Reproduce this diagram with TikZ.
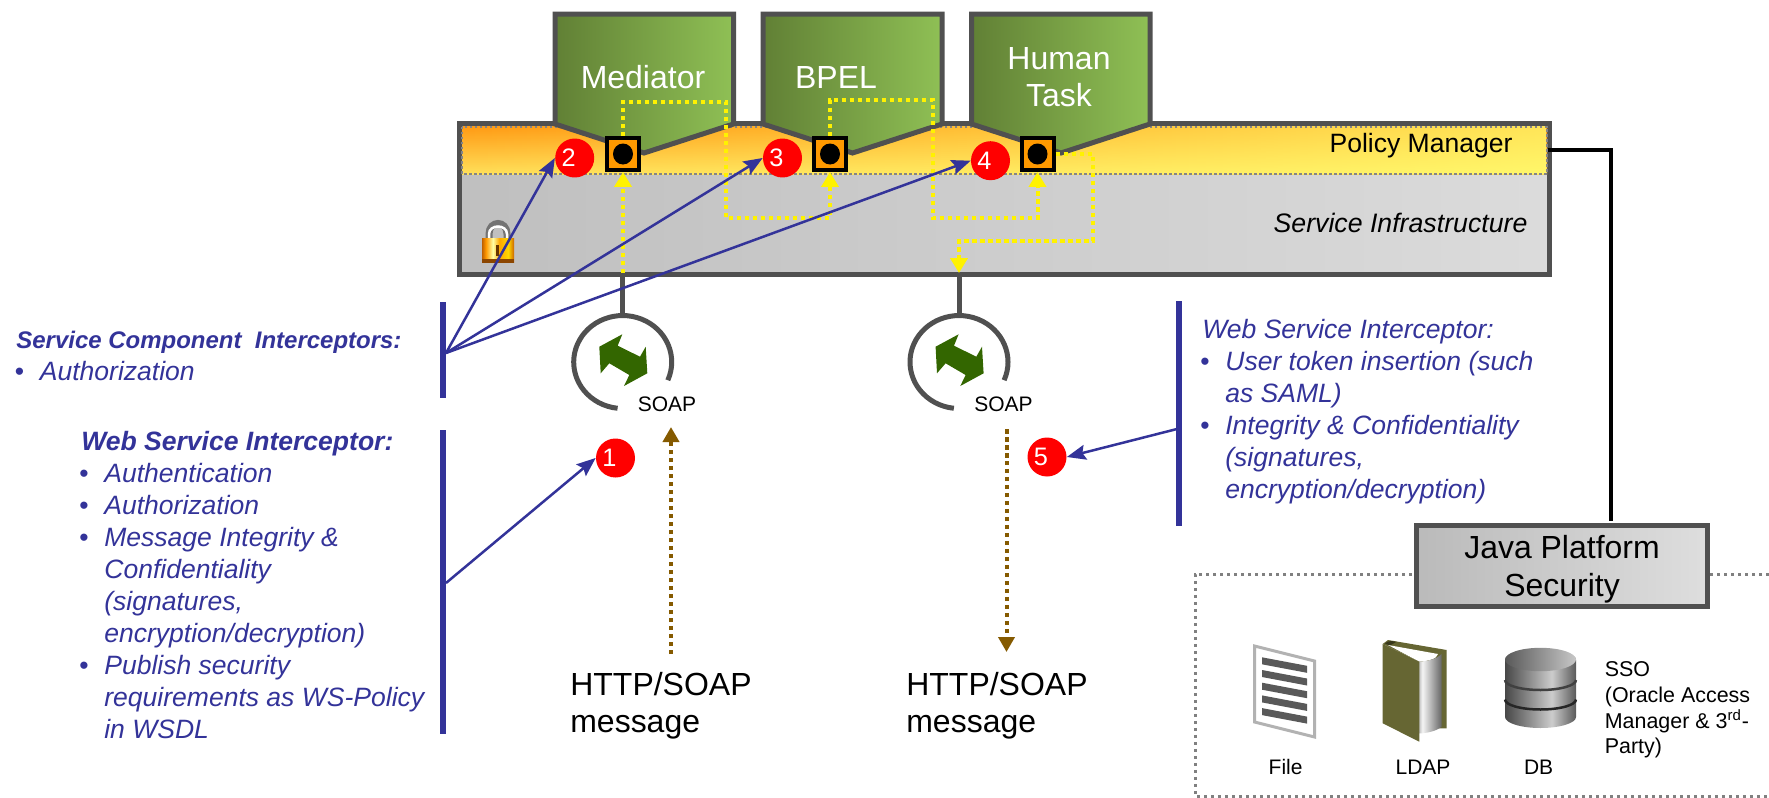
\documentclass[tikz,border=0pt]{standalone}
\usepackage{fontspec}
\setmainfont{Liberation Sans}
\usepackage{xcolor}
\usepackage{tikz}
\usetikzlibrary{shapes}
\usetikzlibrary{arrows}
\usetikzlibrary{arrows.meta}
\usetikzlibrary{fadings}
\definecolor{frame}{HTML}{505050}
\definecolor{ink}{HTML}{333399}
\definecolor{mud}{HTML}{855A00}
\definecolor{leafdark}{HTML}{618035}
\definecolor{leaflight}{HTML}{8FC055}
\definecolor{olive}{HTML}{666633}
\definecolor{bandtop}{HTML}{FF9A14}
\definecolor{bandlow}{HTML}{FFE05A}
\definecolor{bandwash}{HTML}{FFFF70}
\definecolor{pine}{HTML}{336600}
\definecolor{probeorange}{HTML}{FF9900}
\pgfdeclarehorizontalshading{dbbody}{100bp}{color(0bp)=(black!72); color(25bp)=(black!72); color(58bp)=(black!20); color(75bp)=(black!65); color(100bp)=(black!65)}
\pgfdeclarehorizontalshading{dbcap}{100bp}{color(0bp)=(black!65); color(25bp)=(black!65); color(75bp)=(black!22); color(100bp)=(black!22)}
\pgfdeclarehorizontalshading{pages}{100bp}{color(0bp)=(black!22); color(25bp)=(black!22); color(32bp)=(black!4); color(75bp)=(black!60); color(100bp)=(black!60)}
\pgfdeclarehorizontalshading{lockbody}{100bp}{color(0bp)=(orange!75!black); color(25bp)=(orange!75!black); color(31bp)=(probeorange); color(42bp)=(yellow!35!white); color(52bp)=(orange!70!yellow); color(66bp)=(yellow!70!orange); color(75bp)=(orange!80!black); color(100bp)=(orange!80!black)}
\newcommand{\blt}{\makebox[0.5cm][l]{\upshape\textbullet}}
\newcommand{\cont}{\hspace*{0.5cm}}
\newcommand{\digit}[1]{\hspace*{-0.24cm}#1}
\tikzset{
	big text/.style={font=\fontsize{18.2}{21.2}\selectfont},
	list text/.style={font=\fontsize{15.1}{18.2}\selectfont\itshape,text=ink,align=left,inner sep=0pt,anchor=north west},
	small text/.style={font=\fontsize{11.95}{14.6}\selectfont},
	infra box/.style={draw=frame,line width=0.1cm,left color=black!25,right color=black!14,minimum width=21.8cm,minimum height=3.02cm},
	comp/.style={draw=frame,line width=0.1cm,left color=leafdark,right color=leaflight},
	probe/.style={rectangle,draw=black,line width=0.08cm,fill=probeorange,minimum size=0.64cm,inner sep=0pt},
	red dot/.style={circle,fill=red,text=white,font=\fontsize{14.4}{16}\selectfont,inner sep=0pt,minimum size=0.78cm},
	blue bar/.style={rectangle,fill=ink,inner sep=0pt,minimum width=0.12cm},
	blue arrow/.style={draw=ink,line width=0.05cm,-{Stealth[length=0.38cm,width=0.3cm,inset=0.06cm]}},
	flow/.style={draw=yellow,line width=0.08cm,dash pattern=on 0.09cm off 0.07cm},
	flow tip/.style={-{Triangle[length=0.3cm,width=0.34cm]}},
	msg/.style={draw=mud,line width=0.08cm,dash pattern=on 0.09cm off 0.07cm,-{Triangle[length=0.3cm,width=0.32cm]}},
	soap ring/.style={ellipse,inner sep=0pt,outer sep=0pt,minimum width=1.96cm,minimum height=1.86cm},
	stub/.style={draw=frame,line width=0.1cm},
	band edge/.style={frame!70,line width=0.04cm,dash pattern=on 0.05cm off 0.05cm}
}

\begin{document}
\begin{tikzpicture}[x=0.02cm,y=-0.02cm]
	    \useasboundingbox (0,0) rectangle (1769,798);

	    \node[infra box] (infra) at (1004.5,199) {};
	    \fill[top color=bandtop,bottom color=bandlow] (462,126) rectangle (1547,174);
	    \fill[bandwash,path fading=west,fill opacity=0.75] (462,126) rectangle (1547,174);
	    \draw[band edge] (462,126.5) rectangle (1547,174);

	    \draw[comp] (555,14) -- (733.5,14) -- (733.5,124) -- (644,153) -- (555,124) -- cycle;
	    \draw[comp] (763,14) -- (942,14) -- (942,124) -- (852.5,153) -- (763,124) -- cycle;
	    \draw[comp] (971.5,14) -- (1150,14) -- (1150,124) -- (1061,153) -- (971.5,124) -- cycle;

	    \node[big text,text=white] (mediator) at (643,77) {Mediator};
	    \node[big text,text=white] (bpel) at (836,77) {BPEL};
	    \node[big text,text=white,align=center] (human) at (1059,77) {Human\\Task};
	    \node[font=\fontsize{15.1}{18}\selectfont] (policy) at (1421,146) {Policy Manager};
	    \node[font=\fontsize{15.2}{18}\selectfont\itshape] (infralabel) at (1400.5,223) {Service Infrastructure};

	    \node[probe] (medbox) at (623,154) {};
	    \node[probe] (bpelbox) at (830,154) {};
	    \node[probe] (humanbox) at (1037.5,154) {};
	    \foreach \n in {medbox,bpelbox,humanbox}
	      \fill[black] (\n) ellipse (0.2cm and 0.21cm);

	    \node[red dot] (red2) at (574.7,158) {\digit{2}};
	    \node[red dot] (red3) at (782.5,158) {\digit{3}};
	    \node[red dot] (red4) at (990.5,160.7) {\digit{4}};
	    \node[red dot] (red1) at (615.5,458) {\digit{1}};
	    \node[red dot] (red5) at (1047,457) {\digit{5}};

	    % lock
	    \draw[black!55,line width=0.14cm] (489,240) -- (489,234) .. controls (489,220) and (507,220) .. (507,234) -- (507,240);
	    \draw[white,line width=0.05cm] (489,240) -- (489,234) .. controls (489,224) and (507,224) .. (507,234) -- (507,240);
	    \shade[shading=lockbody] (482,238) rectangle (514,262.7);
	    \fill[orange!55!black] (482,258.5) rectangle (514,262.7);
	    \fill[orange!40!black] (495.5,245) rectangle (498.5,256);

	    \foreach \n/\xx in {soapa/622.7,soapb/959}{
	      \node[soap ring] (\n) at (\xx,362) {};
	      \draw[frame,line width=0.1cm,shift={(\xx,362)}] (45.1,18.2) arc[start angle=-23,end angle=264,x radius=0.98cm,y radius=0.93cm];
	      \fill[pine,shift={(\xx,362)}] (-23.4,-15.3) -- (-0.4,-27.7) -- (-5,-16.3) -- (17.3,-5.3) -- (23,-15.3) -- (24.6,11.3) -- (1.3,24) -- (6.6,13) -- (-13.4,1.3) -- (-22,11.3) -- cycle;
	      \path[stub] (infra.south -| \n.north) -- (\n.north);
	    }
	    \node[small text] (soapalabel) at (667,404) {SOAP};
	    \node[small text] (soapblabel) at (1003.5,404) {SOAP};

	    \coordinate (flowin) at (623,273);
	    \coordinate (flowout) at (959,273);
	    \path[flow,flow tip] (flowin) -- (medbox.south);
	    \path[flow,flow tip] (medbox.north) |- (726,102) -- (726,218) -| (bpelbox.south);
	    \path[flow,flow tip] (bpelbox.north) |- (933,100) -- (933,218) -| (humanbox.south);
	    \path[flow,flow tip] (humanbox.east) -| (1092.7,240.7) -| (flowout);

	    \coordinate (msgina) at (671,654);
	    \coordinate (msginb) at (671,427);
	    \coordinate (msgouta) at (1006.5,429);
	    \coordinate (msgoutb) at (1006.5,652);
	    \path[msg] (msgina) -- (msginb);
	    \path[msg] (msgouta) -- (msgoutb);

	    \node[big text,align=left,anchor=north west,inner sep=0pt] (httpa) at (570,671.5) {HTTP/SOAP\\message};
	    \node[big text,align=left,anchor=north west,inner sep=0pt] (httpb) at (906,671.5) {HTTP/SOAP\\message};

	    \node[blue bar,minimum height=1.92cm] (svcbar) at (443,350) {};
	    \node[blue bar,minimum height=6.08cm] (wsbar) at (443,582) {};
	    \node[blue bar,minimum height=4.5cm] (outbar) at (1179,413.5) {};
	    \coordinate (svcfoot) at (446,353);
	    \coordinate (wsfoot) at (446,583);
	    \coordinate (outfoot) at (1177,429);

	    \path[every edge/.append style={blue arrow}]
	      (svcfoot) edge (red2.west)
	                edge (red3.west)
	                edge (red4.west)
	      (wsfoot) edge (red1.west)
	      (outfoot) edge (red5.east);

	    \node[list text] (svclist) at (14.5,330.5) {\hspace*{0.03cm}{\fontsize{13.65}{18}\selectfont\bfseries Service Component\ \ Interceptors:}\\
	      \blt Authorization};
	    \node[list text] (wslist) at (79,431) {\hspace*{0.04cm}{\bfseries Web Service Interceptor:}\\
	      \blt Authentication\\
	      \blt Authorization\\
	      \blt Message Integrity \&\\
	      \cont Confidentiality\\
	      \cont (signatures,\\
	      \cont encryption/decryption)\\
	      \blt Publish security\\
	      \cont requirements as WS-Policy\\
	      \cont in WSDL};
	    \node[list text] (outlist) at (1200,319) {\hspace*{0.04cm}Web Service Interceptor:\\
	      \blt User token insertion (such\\
	      \cont as SAML)\\
	      \blt Integrity \& Confidentiality\\
	      \cont (signatures,\\
	      \cont encryption/decryption)};

	    % store
	    \coordinate (storea) at (1769,574);
	    \coordinate (storeb) at (1195,574);
	    \coordinate (storec) at (1195,796);
	    \coordinate (stored) at (1769,796);
	    \draw[black!50,line width=0.06cm,dash pattern=on 0.07cm off 0.07cm] (storea) -- (storeb) -- (storec) -- (stored);

	    \node[draw=frame,line width=0.1cm,left color=black!27,right color=black!13,minimum width=5.81cm,minimum height=1.61cm,inner sep=0pt,big text,align=center,font=\fontsize{18.2}{21.6}\selectfont] (javabox) at (1562,566) {\rule{0pt}{16.7pt}Java Platform\\Security};
	    \coordinate (policyfoot) at (1548,150);
	    \coordinate (javatop) at (1611,521);
	    \draw[black,line width=0.08cm] (policyfoot) -| (javatop);

	    % file
	    \filldraw[fill=white,draw=black!30,line width=0.06cm] (1254.5,646) -- (1314.5,661) -- (1314.5,737) -- (1254.5,722) -- cycle;
	    \foreach \yy in {0,1,2,3,4}
	      \fill[black!65] (1262,{657.3+12.7*\yy}) -- (1307,{665.8+12.7*\yy}) -- (1307,{672.8+12.7*\yy}) -- (1262,{664.3+12.7*\yy}) -- cycle;

	    % book
	    \fill[olive] (1382.7,644) -- (1388,640) -- (1446.7,650) -- (1446.7,728.3) -- (1419.3,728.3) -- (1419.3,661.7) -- cycle;
	    \fill[olive!55!black] (1385,643.5) .. controls (1388,640) and (1394,641) .. (1396,642) -- (1390,645.5) -- cycle;
	    \fill[white] (1388,645) -- (1438,654) .. controls (1437,659) and (1428,661) .. (1419.3,661.7) -- cycle;
	    \shade[shading=pages] (1419.3,661.7) .. controls (1428,661) and (1437,659) .. (1441.5,654) -- (1441.5,727) .. controls (1436,731) and (1428,733) .. (1419.3,733.5) -- cycle;
	    \fill[olive] (1382.7,644) -- (1419.3,661.7) -- (1419.3,741.7) -- (1382.7,723.3) -- cycle;

	    % db
	    \shade[shading=dbbody] (1505,660) -- (1505,717) arc[start angle=180,end angle=360,x radius=0.71cm,y radius=0.22cm] -- (1576,660) arc[start angle=0,end angle=180,x radius=0.71cm,y radius=0.22cm] -- cycle;
	    \shade[shading=dbcap] (1540.5,659.5) ellipse (0.71cm and 0.234cm);
	    \draw[black!75,line width=0.05cm] (1505,680) arc[start angle=180,end angle=360,x radius=0.71cm,y radius=0.2cm];
	    \draw[black!85,line width=0.05cm] (1505,699.5) arc[start angle=180,end angle=360,x radius=0.71cm,y radius=0.2cm];

	    \node[small text] (filelabel) at (1285.6,767) {File};
	    \node[small text] (ldaplabel) at (1423,767) {LDAP};
	    \node[small text] (dblabel) at (1538.6,767) {DB};
	    \node[small text,font=\fontsize{12.2}{14.6}\selectfont,align=left,anchor=north west,inner sep=0pt] (ssolabel) at (1604.5,661.5) {SSO\\(Oracle Access\\Manager \& 3\textsuperscript{rd}-\\Party)};
	  \end{tikzpicture}
\end{document}
